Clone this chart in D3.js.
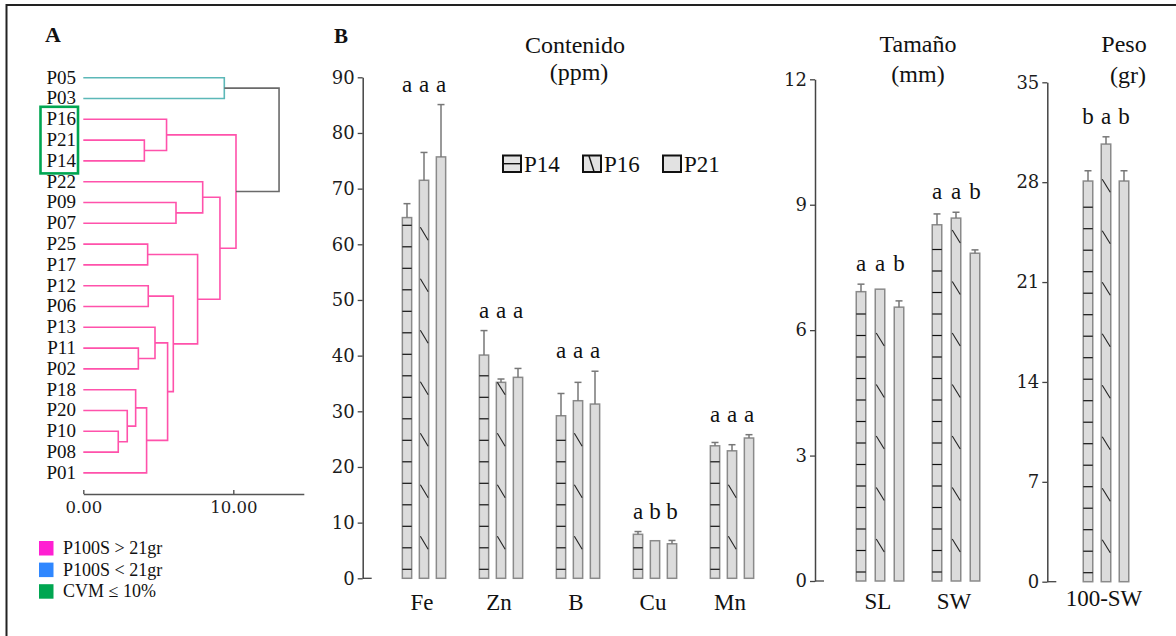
<!DOCTYPE html>
<html>
<head>
<meta charset="utf-8">
<script src="https://cdn.jsdelivr.net/npm/d3@7"></script>
<style>
  body { margin: 0; background: #fff; }
  svg { display: block; }
  text { font-family: "Liberation Serif", Tinos, "Times New Roman", "DejaVu Serif", serif; fill: #111; }
  text.num { font-family: "DejaVu Serif", serif; fill: #1c1c1c; }
</style>
</head>
<body>
<svg id="chart" width="1176" height="636"></svg>
<script>
// --- dendrogram (A) ---
const dendLeaves = ['P05','P03','P16','P21','P14','P22','P09','P07','P25','P17','P12','P06','P13','P11','P02','P18','P20','P10','P08','P01']
// linkage rows: [left, right, height]; 'nK' is the K-th row
const dendMerges = [
  ['P21','P14',4.07], ['P16','n0',5.55], ['P09','P07',6.18], ['P22','n2',7.96],
  ['P25','P17',4.29], ['P12','P06',4.33], ['P11','P02',3.67], ['P13','n6',4.78],
  ['P10','P08',2.33], ['P20','n8',2.93], ['P18','n9',3.49], ['n10','P01',4.22],
  ['n7','n11',5.62], ['n5','n12',6.00], ['n4','n13',7.62], ['n3','n14',9.11],
  ['n1','n15',10.18], ['P05','P03',9.40], ['n17','n16',13.05]
]
const dendTicks = [0, 10]
const boxed = ['P16','P21','P14']
const dendLegend = ['P100S > 21gr', 'P100S < 21gr', 'CVM \u2264 10%']

// --- bars (B) ---
const series = ['P14','P16','P21']

const contCats = ['Fe','Zn','B','Cu','Mn']
const contP14 = [64.8, 40.1, 29.2, 7.9, 23.8]
const contP16 = [71.5, 35.2, 31.9, 6.75, 22.9]
const contP21 = [75.7, 36.1, 31.3, 6.2, 25.2]
const contErrP14 = [2.5, 4.4, 4.0, 0.5, 0.6]
const contErrP16 = [5.0, 0.6, 3.3, 0, 1.1]
const contErrP21 = [9.4, 1.6, 5.9, 0.6, 0.6]
const contLetters = [['a','a','a'],['a','a','a'],['a','a','a'],['a','b','b'],['a','a','a']]
const contTicks = [0,10,20,30,40,50,60,70,80,90]

const tamCats = ['SL','SW']
const tamP14 = [6.92, 8.52]
const tamP16 = [6.98, 8.68]
const tamP21 = [6.55, 7.84]
const tamErrP14 = [0.18, 0.26]
const tamErrP16 = [0, 0.14]
const tamErrP21 = [0.15, 0.08]
const tamLetters = [['a','a','b'],['a','a','b']]
const tamTicks = [0,3,6,9,12]

const pesoCats = ['100-SW']
const pesoP14 = [28.08]
const pesoP16 = [30.67]
const pesoP21 = [28.08]
const pesoErrP14 = [0.72]
const pesoErrP16 = [0.51]
const pesoErrP21 = [0.72]
const pesoLetters = [['b','a','b']]
const pesoTicks = [0,7,14,21,28,35]

const serif = '"Liberation Serif", Tinos, "Times New Roman", "DejaVu Serif", serif'
const svg = d3.select('#chart').attr('font-family', serif)
const pink = '#ff52ab', teal = '#5cb8b8', grey = '#6a6a6a'

// frame
svg.append('rect').attr('x', 6.5).attr('y', 5).attr('width', 1200).attr('height', 700)
   .attr('fill', 'none').attr('stroke', '#222').attr('stroke-width', 2)

svg.append('text').attr('x', 45).attr('y', 42).attr('font-size', 22).attr('font-weight', 'bold').text('A')
svg.append('text').attr('x', 334).attr('y', 43).attr('font-size', 21).attr('font-weight', 'bold').text('B')

// ---------- dendrogram ----------
const xD = d3.scaleLinear().domain([0, 14.7]).range([83.3, 303.8])
const yD = d3.scalePoint().domain(dendLeaves).range([77.7, 472.9])

const nodes = {}
dendLeaves.forEach(name => { nodes[name] = { y: yD(name), h: 0 } })
dendMerges.forEach((m, i) => {
    const a = nodes[m[0]], b = nodes[m[1]]
    nodes['n' + i] = { y: (a.y + b.y) / 2, h: m[2], a, b }
})

const dend = svg.append('g').attr('fill', 'none').attr('stroke-width', 1.6)
dendMerges.forEach((m, i) => {
    const n = nodes['n' + i]
    const col = i === dendMerges.length - 1 ? grey : (i === 17 ? teal : pink)
    const xh = xD(n.h)
    const path = d3.path()
    path.moveTo(xD(n.a.h), n.a.y); path.lineTo(xh, n.a.y)
    path.lineTo(xh, n.b.y); path.lineTo(xD(n.b.h), n.b.y)
    dend.append('path').attr('d', path.toString()).attr('stroke', col)
})

svg.append('g').selectAll('text')
   .data(dendLeaves)
   .enter()
   .append('text')
   .attr('x', 76)
   .attr('y', d => yD(d) + 5.8)
   .attr('text-anchor', 'end')
   .attr('font-size', 19)
   .text(d => d)

// box around the selected accessions
const boxY = boxed.map(d => yD(d))
svg.append('rect')
   .attr('x', 40.5).attr('y', d3.min(boxY) - 12.5)
   .attr('width', 37.5).attr('height', d3.max(boxY) - d3.min(boxY) + 25)
   .attr('fill', 'none').attr('stroke', '#00a651').attr('stroke-width', 2.6)

const dAxis = svg.append('g').attr('transform', 'translate(0,494)')
   .call(d3.axisBottom(xD).tickValues(dendTicks).tickFormat(d3.format('.2f')).tickSizeInner(-4).tickSizeOuter(0).tickPadding(7))
dAxis.attr('font-family', null)
dAxis.select('.domain').attr('stroke', '#555').attr('stroke-width', 1.4)
dAxis.selectAll('.tick line').attr('stroke', '#555').attr('stroke-width', 1.4)
dAxis.selectAll('.tick text').attr('class', 'num').attr('font-size', 16.5)

const legCols = ['#ff1fd2', '#2f87ff', '#00a651']
dendLegend.forEach((t, i) => {
    svg.append('rect').attr('x', 39).attr('y', 541 + i * 21.6).attr('width', 14.5).attr('height', 14.5).attr('fill', legCols[i])
    svg.append('text').attr('x', 63).attr('y', 554 + i * 21.6).attr('font-size', 18).text(t)
})

// ---------- bar panels ----------
const drawPanel = (p) => {
    const g = svg.append('g')
    const y = d3.scaleLinear().domain([0, p.max]).range([p.y0, p.y1])
    const x = d3.scalePoint().domain(p.cats).range(p.xr)
    const xs = d3.scaleBand().domain(series).range([-p.half, p.half]).paddingInner(p.pad)
    const w = xs.bandwidth()

    const ax = g.append('g').attr('transform', `translate(${p.ax},0)`)
        .call(d3.axisLeft(y).tickValues(p.ticks).tickSize(5).tickSizeOuter(0).tickPadding(3))
    ax.attr('font-family', null)
    ax.select('.domain').attr('stroke', '#444').attr('stroke-width', 1.5)
    ax.selectAll('.tick line').attr('stroke', '#444').attr('stroke-width', 1.3)
    ax.selectAll('.tick text').attr('class', 'num').attr('font-size', 18)
    ax.append('line').attr('x1', 0).attr('x2', 9).attr('y1', y(0)).attr('y2', y(0))
      .attr('stroke', '#444').attr('stroke-width', 1.3)

    const rows = []
    p.cats.forEach((c, i) => {
        series.forEach((s, j) => {
            rows.push({ c, s, v: p.vals[j][i], e: p.errs[j][i], L: p.letters[i][j] })
        })
    })
    const bx = d => x(d.c) + xs(d.s)

    g.selectAll('rect.bar')
     .data(rows)
     .enter()
     .append('rect')
     .attr('class', 'bar')
     .attr('x', bx)
     .attr('y', d => y(d.v))
     .attr('width', w)
     .attr('height', d => y(0) - y(d.v))
     .attr('fill', '#dcdcdc')
     .attr('stroke', '#8a8a8a')
     .attr('stroke-width', 1.5)

    // hatching
    rows.forEach(d => {
        const top = y(d.v), bot = y(0), x0 = bx(d)
        if (d.s === 'P14') {
            for (let yy = bot - 9; yy > top + 6; yy -= 21.5) {
                g.append('line').attr('x1', x0).attr('x2', x0 + w).attr('y1', yy).attr('y2', yy)
                 .attr('stroke', '#111').attr('stroke-width', 1.2)
            }
        } else if (d.s === 'P16') {
            for (let yy = bot - 42; yy > top - 2; yy -= 51.5) {
                g.append('line').attr('x1', x0 + 1).attr('x2', x0 + w - 0.5).attr('y1', Math.max(yy, top)).attr('y2', yy + 13)
                 .attr('stroke', '#222').attr('stroke-width', 1.1)
            }
        }
    })

    // error bars
    const eb = rows.filter(d => d.e > 0)
    g.selectAll('line.err')
     .data(eb)
     .enter()
     .append('line')
     .attr('class', 'err')
     .attr('x1', d => bx(d) + w / 2).attr('x2', d => bx(d) + w / 2)
     .attr('y1', d => y(d.v)).attr('y2', d => y(d.v + d.e))
     .attr('stroke', '#777').attr('stroke-width', 1.5)
    g.selectAll('line.cap')
     .data(eb)
     .enter()
     .append('line')
     .attr('class', 'cap')
     .attr('x1', d => bx(d) + w / 2 - 3.5).attr('x2', d => bx(d) + w / 2 + 3.5)
     .attr('y1', d => y(d.v + d.e)).attr('y2', d => y(d.v + d.e))
     .attr('stroke', '#777').attr('stroke-width', 1.5)

    // letters
    p.cats.forEach(c => {
        const grp = rows.filter(d => d.c === c)
        const ly = d3.min(grp, d => y(d.v + d.e)) - 13
        grp.forEach(d => {
            g.append('text').attr('x', bx(d) + w / 2).attr('y', ly)
             .attr('text-anchor', 'middle').attr('font-size', 23).text(d.L)
        })
    })

    // category labels
    g.selectAll('text.cat')
     .data(p.cats)
     .enter()
     .append('text')
     .attr('class', 'cat')
     .attr('x', d => x(d) - 2)
     .attr('y', p.labelY)
     .attr('text-anchor', 'middle')
     .attr('font-size', 23)
     .text(d => d)

    // title
    p.title.forEach((t, i) => {
        g.append('text').attr('x', p.titleX[i]).attr('y', p.titleY[i])
         .attr('text-anchor', 'middle').attr('font-size', 24).text(t)
    })
}

drawPanel({
    cats: contCats, vals: [contP14, contP16, contP21], errs: [contErrP14, contErrP16, contErrP21],
    letters: contLetters, ticks: contTicks, max: 90,
    y0: 578.3, y1: 77.3, xr: [424, 732], half: 21.65, pad: 0.453, ax: 362.7,
    labelY: 610, title: ['Contenido', '(ppm)'], titleX: [575, 579], titleY: [53, 80]
})
drawPanel({
    cats: tamCats, vals: [tamP14, tamP16, tamP21], errs: [tamErrP14, tamErrP16, tamErrP21],
    letters: tamLetters, ticks: tamTicks, max: 12,
    y0: 581, y1: 79.3, xr: [880, 956], half: 23.75, pad: 0.5, ax: 815,
    labelY: 609, title: ['Tamaño', '(mm)'], titleX: [918, 918], titleY: [52, 82]
})
drawPanel({
    cats: pesoCats, vals: [pesoP14, pesoP16, pesoP21], errs: [pesoErrP14, pesoErrP16, pesoErrP21],
    letters: pesoLetters, ticks: pesoTicks, max: 35,
    y0: 581.7, y1: 82.3, xr: [1106, 1106], half: 22.75, pad: 0.472, ax: 1047.3,
    labelY: 606, title: ['Peso', '(gr)'], titleX: [1124, 1128], titleY: [52, 83]
})

// series legend
const legG = svg.append('g')
series.forEach((s, i) => {
    const lx = 503 + i * 80
    legG.append('rect').attr('x', lx).attr('y', 155.5).attr('width', 18).attr('height', 16.5)
        .attr('fill', '#e2e2e2').attr('stroke', '#111').attr('stroke-width', 2)
    if (s === 'P14') {
        legG.append('line').attr('x1', lx).attr('x2', lx + 18).attr('y1', 163.7).attr('y2', 163.7)
            .attr('stroke', '#111').attr('stroke-width', 1.4)
    } else if (s === 'P16') {
        legG.append('line').attr('x1', lx + 6).attr('x2', lx + 11).attr('y1', 156).attr('y2', 171.5)
            .attr('stroke', '#111').attr('stroke-width', 1.4)
    }
    legG.append('text').attr('x', lx + 21).attr('y', 171.5).attr('font-size', 23).text(s)
})
</script>
</body>
</html>
